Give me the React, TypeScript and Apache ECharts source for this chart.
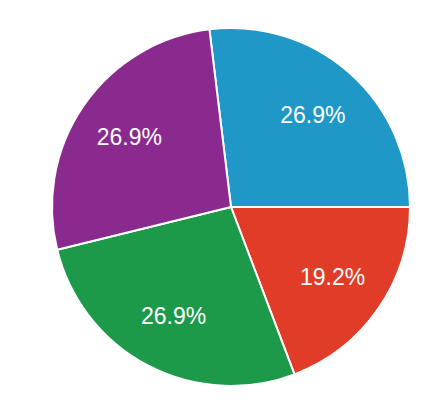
import React, { useEffect, useRef } from "react";
import * as echarts from "echarts";

const categories = ["A", "B", "C", "D"];
const values = [7, 5, 7, 7];
const colors = ["#1f98c8", "#e03c28", "#1d9a49", "#8b2a8e"];

export default function App() {
  const ref = useRef<HTMLDivElement>(null);
  useEffect(() => {
    const chart = echarts.init(ref.current!, null, { renderer: "svg" });
    const data = categories.map((c, i) => ({ name: c, value: values[i] }));
    const total = values.reduce((a, b) => a + b, 0);
    const start = (values[0] / total) * 360;
    chart.setOption({
      animation: false,
      color: colors,
      series: [
        {
          type: "pie",
          center: [223, 199],
          radius: [0, 179],
          startAngle: start,
          clockwise: true,
          data,
          label: { show: false },
          labelLine: { show: false },
          itemStyle: { borderColor: "#ffffff", borderWidth: 2 },
          silent: true,
        },
        {
          type: "pie",
          center: [223, 199],
          radius: [62, 179],
          startAngle: start,
          clockwise: true,
          data,
          itemStyle: { color: "transparent" },
          label: {
            show: true,
            position: "inside",
            color: "#ffffff",
            fontSize: 23,
            fontFamily: "Liberation Sans, Arial, sans-serif",
            formatter: (p: any) => p.percent.toFixed(1) + "%",
          },
          labelLine: { show: false },
          silent: true,
        },
      ],
    });
    return () => chart.dispose();
  }, []);
  return <div ref={ref} style={{ width: 426, height: 401 }} />;
}
